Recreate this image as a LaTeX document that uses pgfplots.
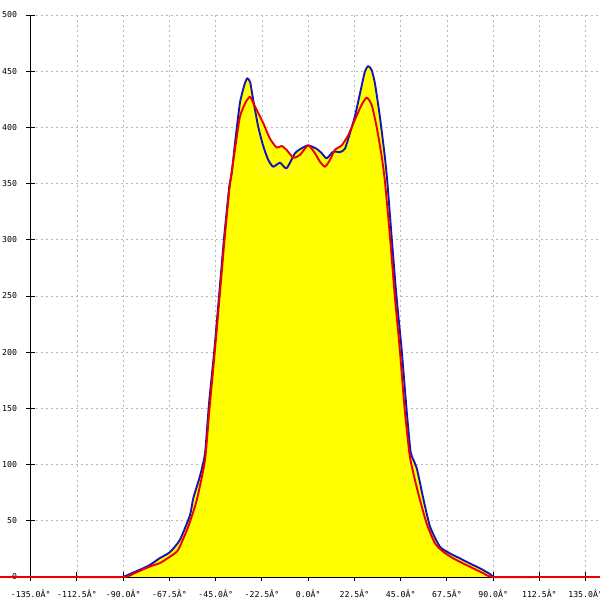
\documentclass[border=0pt]{standalone}
\usepackage{pgfplots}
\pgfplotsset{compat=1.18}
\usepackage{fontspec}
\newfontfamily\monofont{DejaVu Sans Mono}
\definecolor{cblue}{RGB}{20,20,185}
\definecolor{cred}{RGB}{235,0,0}
\definecolor{cyel}{RGB}{255,255,0}
\definecolor{cgrid}{RGB}{185,185,185}
\newcommand\lblfont{\monofont\fontsize{8.2}{9}\selectfont}
\begin{document}
\begin{tikzpicture}
\begin{axis}[
  scale only axis, width=569.3pt, height=562pt,
  xmin=-135, xmax=142, ymin=0, ymax=500,
  axis x line=bottom, axis y line=left,
  axis line style={-, black, line width=0.9pt},
  clip=false,
  xtick={-135,-112.5,-90,-67.5,-45,-22.5,0,22.5,45,67.5,90,112.5,135},
  xticklabels={-135.0Â°,-112.5Â°,-90.0Â°,-67.5Â°,-45.0Â°,-22.5Â°,0.0Â°,22.5Â°,45.0Â°,67.5Â°,90.0Â°,112.5Â°,135.0Â°},
  ytick={0,50,100,150,200,250,300,350,400,450,500},
  yticklabels={0,50,100,150,200,250,300,350,400,450,500},
  xticklabel style={font=\lblfont, inner sep=0pt, anchor=north, yshift=-8pt},
  yticklabel style={font=\lblfont, inner sep=0pt, anchor=east, xshift=-9pt},
  grid=major,
  grid style={cgrid, line width=0.7pt, dash pattern=on 2pt off 3pt},
  tick style={black, line width=0.9pt},
  major tick length=9pt, tick align=center,
]
\coordinate (BL) at (rel axis cs:0,0);
\coordinate (TR) at (rel axis cs:1,1);
% fills
\addplot[draw=none, fill=cyel, smooth, tension=0.35] coordinates {
(-90,0) (-85,4) (-80,8) (-77,10.7) (-72,17) (-67.3,22) (-62.4,33) (-57.5,55) (-55.9,70) (-52.6,90) (-50.2,110) (-48.2,155) (-45.8,199) (-43.4,249) (-41,300) (-38.4,347) (-37.2,359) (-35.6,386) (-33.2,421.7) (-31,438) (-29.6,443.7) (-28.2,440) (-26.7,424) (-24.3,400.6) (-21.8,383) (-19.4,371) (-17,365) (-13.7,368.6) (-10.5,363.6) (-6.4,377) (-3.2,381.4) (0,384) (4.1,381) (6.6,377) (9,372.5) (12.2,378.4) (15.5,378) (17.9,381) (20.3,394.7) (22.7,409.5) (25.2,430) (27.6,449.6) (29.2,454.6) (30.9,451) (32.5,439) (34.9,409.5) (37.3,374) (38.5,352) (40.6,303) (43,249) (45.5,202) (47.9,148.6) (49.8,112) (51.5,103) (52.8,97) (54.4,84) (56,70) (59.3,44.8) (64.1,27) (69,21) (73.8,16.6) (78.7,12) (83.6,7.7) (88.4,2.7) (90,0)
} \closedcycle;
\addplot[draw=none, fill=cyel, smooth, tension=0.35] coordinates {
(-90,0) (-85,3) (-80,7) (-76,10) (-72,12.5) (-67.3,18) (-63.3,24) (-58.4,44.5) (-54.2,68.5) (-50.2,104) (-48,150) (-45.5,199) (-43.1,249) (-40.7,300) (-38.2,347) (-35.8,378) (-33.2,409.5) (-30.5,422) (-28.3,427.3) (-26.5,421) (-25,415.5) (-21.8,403.6) (-18.6,390) (-15.3,382) (-12.9,383.5) (-10.5,380) (-7.2,373) (-4,375.5) (0,384) (3.3,377) (5.7,369.5) (8.2,365) (10.6,371) (13,380) (16.3,384) (19.5,393) (22.7,406.6) (26,420) (28.5,426.5) (30.9,420) (33.3,400.6) (35.8,374) (37.4,351) (39.8,303) (42.2,249) (44.6,202) (47,148.6) (49.5,107) (53.2,77) (57.6,47.8) (61.7,30) (65.7,22.5) (70.6,16.6) (75.5,12) (80.3,7.7) (85.3,3.3) (90,0)
} \closedcycle;
% blue line
\addplot[cblue, line width=1.9pt, line join=round, smooth, tension=0.35] coordinates {
(-90,0) (-85,4) (-80,8) (-77,10.7) (-72,17) (-67.3,22) (-62.4,33) (-57.5,55) (-55.9,70) (-52.6,90) (-50.2,110) (-48.2,155) (-45.8,199) (-43.4,249) (-41,300) (-38.4,347) (-37.2,359) (-35.6,386) (-33.2,421.7) (-31,438) (-29.6,443.7) (-28.2,440) (-26.7,424) (-24.3,400.6) (-21.8,383) (-19.4,371) (-17,365) (-13.7,368.6) (-10.5,363.6) (-6.4,377) (-3.2,381.4) (0,384) (4.1,381) (6.6,377) (9,372.5) (12.2,378.4) (15.5,378) (17.9,381) (20.3,394.7) (22.7,409.5) (25.2,430) (27.6,449.6) (29.2,454.6) (30.9,451) (32.5,439) (34.9,409.5) (37.3,374) (38.5,352) (40.6,303) (43,249) (45.5,202) (47.9,148.6) (49.8,112) (51.5,103) (52.8,97) (54.4,84) (56,70) (59.3,44.8) (64.1,27) (69,21) (73.8,16.6) (78.7,12) (83.6,7.7) (88.4,2.7) (90,0)
};
% red line
\addplot[cred, line width=1.9pt, line join=round, smooth, tension=0.35] coordinates {
(-150,0) (-120,0) (-90,0) (-85,3) (-80,7) (-76,10) (-72,12.5) (-67.3,18) (-63.3,24) (-58.4,44.5) (-54.2,68.5) (-50.2,104) (-48,150) (-45.5,199) (-43.1,249) (-40.7,300) (-38.2,347) (-35.8,378) (-33.2,409.5) (-30.5,422) (-28.3,427.3) (-26.5,421) (-25,415.5) (-21.8,403.6) (-18.6,390) (-15.3,382) (-12.9,383.5) (-10.5,380) (-7.2,373) (-4,375.5) (0,384) (3.3,377) (5.7,369.5) (8.2,365) (10.6,371) (13,380) (16.3,384) (19.5,393) (22.7,406.6) (26,420) (28.5,426.5) (30.9,420) (33.3,400.6) (35.8,374) (37.4,351) (39.8,303) (42.2,249) (44.6,202) (47,148.6) (49.5,107) (53.2,77) (57.6,47.8) (61.7,30) (65.7,22.5) (70.6,16.6) (75.5,12) (80.3,7.7) (85.3,3.3) (90,0) (116,0) (142,0)
};
\end{axis}
\pgfresetboundingbox
\path[use as bounding box] ([xshift=-30.7pt,yshift=-23pt]BL) rectangle ([yshift=15pt]TR);
\end{tikzpicture}
\end{document}
